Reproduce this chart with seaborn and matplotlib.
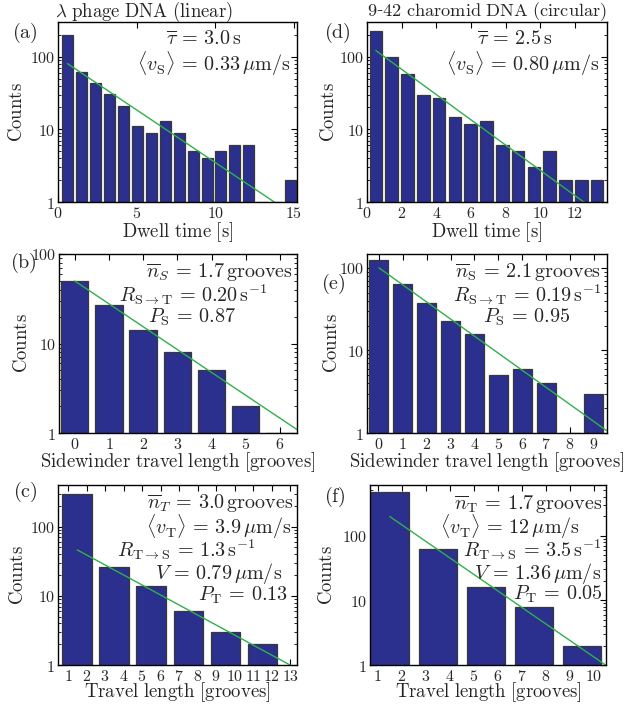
import numpy as np
import pandas as pd
import matplotlib
matplotlib.use("Agg")
import matplotlib.pyplot as plt
import seaborn as sns
from matplotlib.ticker import FixedLocator, FixedFormatter, LogLocator, NullFormatter

# ---------------- data ----------------
# (a) lambda phage DNA: dwell-time histogram
dwell_lin_t = [0.60, 1.49, 2.38, 3.26, 4.15, 5.04, 5.93, 6.81, 7.70, 8.59,
               9.48, 10.36, 11.25, 12.14, 13.03, 13.91, 14.80]
dwell_lin_n = [197, 61, 44, 31, 21, 11, 9, 13, 9, 5, 4, 5, 6, 6, 1, 1, 2]

# (d) 9-42 charomid DNA: dwell-time histogram
dwell_circ_t = [0.51, 1.42, 2.33, 3.25, 4.16, 5.07, 5.98, 6.89, 7.81, 8.72,
                9.63, 10.54, 11.45, 12.37, 13.28]
dwell_circ_n = [226, 100, 58, 30, 27, 15, 12, 13, 6, 5, 3, 5, 2, 2, 2]

# (b) / (e) sidewinder travel length [grooves]
side_lin_x = [0, 1, 2, 3, 4, 5, 6]
side_lin_n = [50, 27, 14, 8, 5, 2, 1]
side_circ_x = [0, 1, 2, 3, 4, 5, 6, 7, 8, 9]
side_circ_n = [123, 63, 37, 23, 16, 5, 6, 4, 1, 3]

# (c) / (f) travel length [grooves], two-groove bins
trav_lin_x = [1.5, 3.5, 5.5, 7.5, 9.5, 11.5]
trav_lin_n = [293, 26, 14, 6, 3, 2]
trav_circ_x = [1.5, 3.5, 5.5, 7.5, 9.5]
trav_circ_n = [468, 62, 16, 8, 2]

# exponential fits: amplitude at x = 0 and decay scale
fit_amp = {"a": 98, "d": 149, "b": 50, "e": 100, "c": 76, "f": 476}
fit_scale = {"a": 3.0, "d": 2.5, "b": 1.7, "e": 2.1, "c": 3.0, "f": 1.7}


def rm(s):
    """Upright Computer Modern text via mathtext."""
    return r"$\mathrm{" + s.replace(" ", r"\ ") + "}$"


EQ = r"\,=\,"

titles = {"a": r"$\lambda\ \mathrm{phage\ DNA\ (linear)}$",
          "d": r"$\mathrm{9}$-$\mathrm{42\ charomid\ DNA\ (circular)}$"}

labels = {
    "a": [r"$\overline{\tau}" + EQ + r"3.0\,\mathrm{s}$",
          r"$\langle v_{\mathrm{S}}\rangle" + EQ + r"0.33\,\mu\mathrm{m/s}$"],
    "d": [r"$\overline{\tau}" + EQ + r"2.5\,\mathrm{s}$",
          r"$\langle v_{\mathrm{S}}\rangle" + EQ + r"0.80\,\mu\mathrm{m/s}$"],
    "b": [r"$\overline{n}_S" + EQ + r"1.7\,\mathrm{grooves}$",
          r"$R_{\mathrm{S}\rightarrow\mathrm{T}}" + EQ + r"0.20\,\mathrm{s}^{-1}$",
          r"$P_{\mathrm{S}}" + EQ + r"0.87$"],
    "e": [r"$\overline{n}_{\mathrm{S}}" + EQ + r"2.1\,\mathrm{grooves}$",
          r"$R_{\mathrm{S}\rightarrow\mathrm{T}}" + EQ + r"0.19\,\mathrm{s}^{-1}$",
          r"$P_{\mathrm{S}}" + EQ + r"0.95$"],
    "c": [r"$\overline{n}_T" + EQ + r"3.0\,\mathrm{grooves}$",
          r"$\langle v_{\mathrm{T}}\rangle" + EQ + r"3.9\,\mu\mathrm{m/s}$",
          r"$R_{\mathrm{T}\rightarrow\mathrm{S}}" + EQ + r"1.3\,\mathrm{s}^{-1}$",
          r"$V" + EQ + r"0.79\,\mu\mathrm{m/s}$",
          r"$P_{\mathrm{T}}" + EQ + r"0.13$"],
    "f": [r"$\overline{n}_{\mathrm{T}}" + EQ + r"1.7\,\mathrm{grooves}$",
          r"$\langle v_{\mathrm{T}}\rangle" + EQ + r"12\,\mu\mathrm{m/s}$",
          r"$R_{\mathrm{T}\rightarrow\mathrm{S}}" + EQ + r"3.5\,\mathrm{s}^{-1}$",
          r"$V" + EQ + r"1.36\,\mu\mathrm{m/s}$",
          r"$P_{\mathrm{T}}" + EQ + r"0.05$"],
}

xlabels = {"a": "Dwell time [s]", "d": "Dwell time [s]",
           "b": "Sidewinder travel length [grooves]",
           "e": "Sidewinder travel length [grooves]",
           "c": "Travel length [grooves]", "f": "Travel length [grooves]"}

xticks = {"a": [0, 5, 10, 15], "d": [0, 2, 4, 6, 8, 10, 12],
          "b": [0, 1, 2, 3, 4, 5, 6], "e": [0, 1, 2, 3, 4, 5, 6, 7, 8, 9],
          "c": list(range(1, 14)), "f": list(range(1, 11))}
yticks = [1, 10, 100]

# ---------------- style ----------------
sns.set_style("ticks")
plt.rcParams["font.family"] = ["DejaVu Serif"]
plt.rcParams["mathtext.fontset"] = "cm"

BAR = "#2b2f8e"
EDGE = "#383838"
FIT = "#2fb04a"

fig = plt.figure(figsize=(6.24, 7.06), dpi=100)
W, H = 624, 706


def add_axes(l, t, r, b):
    return fig.add_axes([l / W, 1 - b / H, (r - l) / W, (b - t) / H])


# box = (left, top, right, bottom) in pixels; tx / ty = centre of each parameter line
panels = {
    "a": dict(box=(58, 22, 297, 202), x=dwell_lin_t, n=dwell_lin_n, xlim=(0, 15.2),
              ylim=(1, 300), tx=[0.611, 0.650], ty=[0.915, 0.789],
              ylab=-0.172, xlab=-0.168),
    "d": dict(box=(367, 22, 607, 202), x=dwell_circ_t, n=dwell_circ_n, xlim=(0, 13.85),
              ylim=(1, 300), tx=[0.615, 0.650], ty=[0.915, 0.789],
              ylab=-0.157, xlab=-0.168),
    "b": dict(box=(59, 254, 297, 433), x=side_lin_x, n=side_lin_n, xlim=(-0.46, 6.5),
              ylim=(1, 100), tx=[0.676, 0.565, 0.558], ty=[0.916, 0.79, 0.66],
              ylab=-0.157, xlab=-0.162),
    "e": dict(box=(367, 254, 607, 433), x=side_circ_x, n=side_circ_n, xlim=(-0.5, 9.55),
              ylim=(1, 147), tx=[0.673, 0.667, 0.665], ty=[0.916, 0.79, 0.66],
              ylab=-0.147, xlab=-0.162),
    "c": dict(box=(58, 485, 297, 665), x=trav_lin_x, n=trav_lin_n, xlim=(0.46, 13.37),
              ylim=(1, 400), tx=[0.678, 0.671, 0.538, 0.674, 0.772],
              ty=[0.917, 0.787, 0.657, 0.528, 0.404], ylab=-0.166, xlab=-0.152),
    "f": dict(box=(370, 485, 606, 665), x=trav_circ_x, n=trav_circ_n, xlim=(0.68, 10.5),
              ylim=(1, 605), tx=[0.669, 0.593, 0.688, 0.710, 0.798],
              ty=[0.913, 0.787, 0.657, 0.528, 0.407], ylab=-0.182, xlab=-0.152),
}

panel_tags = {"a": (25, 33), "d": (337, 33), "b": (23, 263), "e": (333, 284),
              "c": (25, 492), "f": (335, 497)}
# title: left edge, vertical centre, span width (pixels)
title_pos = {"a": (55, 12, 178), "d": (367, 12, 240)}
title_artists = []

for key, p in panels.items():
    ax = add_axes(*p["box"])
    ax.set_yscale("log")
    df = pd.DataFrame({"x": p["x"], "n": p["n"]})
    sns.barplot(data=df, x="x", y="n", native_scale=True, width=0.8, color=BAR,
                saturation=1, edgecolor=EDGE, linewidth=0.9, errorbar=None, ax=ax)

    # exponential fit, from the first bin centre across the axis
    xf = np.linspace(p["x"][0], p["xlim"][1], 200)
    yf = fit_amp[key] * np.exp(-xf / fit_scale[key])
    sns.lineplot(x=xf, y=yf, color=FIT, linewidth=1.0, ax=ax)

    ax.set_xlim(*p["xlim"])
    ax.set_ylim(*p["ylim"])
    ax.xaxis.set_major_locator(FixedLocator(xticks[key]))
    ax.xaxis.set_major_formatter(FixedFormatter([rm(str(v)) for v in xticks[key]]))
    ax.yaxis.set_major_locator(FixedLocator(yticks))
    ax.yaxis.set_major_formatter(FixedFormatter([rm(str(v)) for v in yticks]))
    ax.yaxis.set_minor_locator(LogLocator(base=10, subs=np.arange(2, 10)))
    ax.yaxis.set_minor_formatter(NullFormatter())
    ax.tick_params(axis="both", which="both", direction="in", top=True, right=True,
                   labelsize=11.5, color="black")
    ax.tick_params(axis="x", which="major", pad=2.5)
    ax.tick_params(axis="y", which="major", pad=2)
    ax.tick_params(axis="both", which="major", length=4, width=0.8)
    ax.tick_params(axis="y", which="minor", length=2, width=0.6)
    for s in ax.spines.values():
        s.set_linewidth(1.0)
        s.set_color("black")

    ax.set_xlabel(rm(xlabels[key]), fontsize=13.5, va="center")
    ax.set_ylabel(rm("Counts"), fontsize=13.5, va="center")
    ax.xaxis.set_label_coords(0.5, p["xlab"])
    ax.yaxis.set_label_coords(p["ylab"], 0.5)

    if key in title_pos:
        tl, tt, tw = title_pos[key]
        t = fig.text(tl / W, 1 - tt / H, titles[key], fontsize=13, ha="left", va="center")
        title_artists.append((t, tw))

    # parameter block
    for txt, xc, yc in zip(labels[key], p["tx"], p["ty"]):
        ax.text(xc, yc, txt, transform=ax.transAxes, ha="center",
                va="center_baseline", fontsize=14.5)

    tx, ty = panel_tags[key]
    fig.text(tx / W, 1 - ty / H, rm(f"({key})"), fontsize=14.5, ha="center", va="center")

# size each title so that it spans its intended width
renderer = fig.canvas.get_renderer()
for t, tw in title_artists:
    w = t.get_window_extent(renderer=renderer).width
    if w > 0:
        t.set_fontsize(float(np.clip(13 * tw / w, 11, 16)))

fig.savefig("out.png", dpi=100)
